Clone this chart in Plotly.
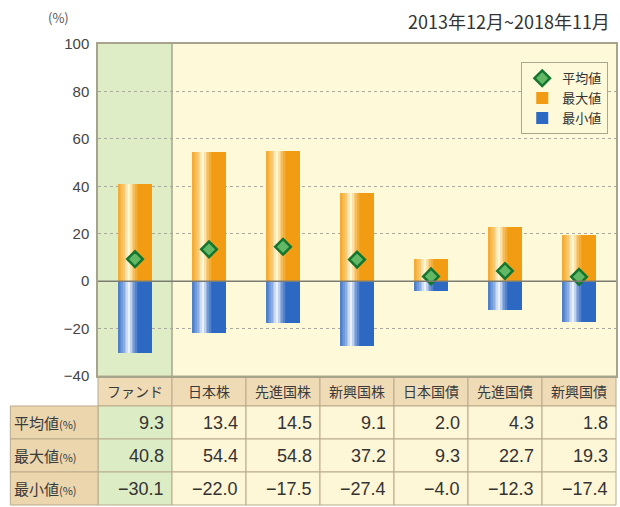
import plotly.graph_objects as go

# ---------------- data ----------------
categories = ["ファンド", "日本株", "先進国株", "新興国株", "日本国債", "先進国債", "新興国債"]
mean_vals = [9.3, 13.4, 14.5, 9.1, 2.0, 4.3, 1.8]
max_vals = [40.8, 54.4, 54.8, 37.2, 9.3, 22.7, 19.3]
min_vals = [-30.1, -22.0, -17.5, -27.4, -4.0, -12.3, -17.4]
row_labels = ["平均値", "最大値", "最小値"]
y_ticks = [-40, -20, 0, 20, 40, 60, 80, 100]
period_text = "2013年12月~2018年11月"

# ---------------- geometry ----------------
W, H = 620, 507
L, R, T, B = 98, 2, 44, 131
PW, PH = W - L - R, H - T - B


def px(x):
    return (x - L) / PW


def py(y):
    return (H - B - y) / PH


def hex2rgb(h):
    h = h.lstrip("#")
    return tuple(int(h[i:i + 2], 16) for i in (0, 2, 4))


def mix(c1, c2, f):
    a, b = hex2rgb(c1), hex2rgb(c2)
    return "rgb(%d,%d,%d)" % tuple(round(a[i] + (b[i] - a[i]) * f) for i in range(3))


def light_profile(t):
    peak = 0.32
    if t < peak:
        return 0.15 + 0.85 * (t / peak) ** 1.5
    return max(0.0, 1 - (t - peak) / 0.28) ** 1.3


fig = go.Figure()

N = 20
BW = 0.46
ORANGE, ORANGE_L = "#f29c14", "#fff8d6"
BLUE, BLUE_L = "#2d69c2", "#eef3fd"

for k in range(N):
    t = (k + 0.5) / N
    f = light_profile(t)
    off = -BW / 2 + k * BW / N
    w = BW / N + 0.006
    last = k == N - 1
    fig.add_trace(go.Bar(
        x=categories, y=max_vals, width=w, offset=off,
        marker=dict(color=mix(ORANGE, ORANGE_L, f), line=dict(width=0)),
        name="最大値", showlegend=last, legendrank=2, hoverinfo="skip"))
    fig.add_trace(go.Bar(
        x=categories, y=min_vals, width=w, offset=off,
        marker=dict(color=mix(BLUE, BLUE_L, f), line=dict(width=0)),
        name="最小値", showlegend=last, legendrank=3, hoverinfo="skip"))

fig.add_trace(go.Scatter(
    x=categories, y=mean_vals, mode="markers", name="平均値", legendrank=1,
    marker=dict(symbol="diamond", size=12, color="#62b865",
                line=dict(color="#13762f", width=2.5))))

shapes = []
# plot backgrounds
shapes.append(dict(type="rect", xref="paper", yref="paper", x0=0, x1=1, y0=0, y1=1,
                   fillcolor="#fdf9d9", line=dict(width=0), layer="below"))
shapes.append(dict(type="rect", xref="paper", yref="paper", x0=0, x1=1 / 7, y0=0, y1=1,
                   fillcolor="#dfedc7", line=dict(width=0), layer="below"))

# table
BORDER = "#b9ab8b"
header = (376, 406)
rows = [(406, 439), (439, 472), (472, 505)]
ncol = len(categories)
for i in range(ncol):
    shapes.append(dict(type="rect", xref="paper", yref="paper",
                       x0=i / ncol, x1=(i + 1) / ncol, y0=py(header[1]), y1=py(header[0]),
                       fillcolor="#efdbb6", line=dict(color=BORDER, width=1), layer="below"))
    for (a, b) in rows:
        shapes.append(dict(type="rect", xref="paper", yref="paper",
                           x0=i / ncol, x1=(i + 1) / ncol, y0=py(b), y1=py(a),
                           fillcolor="#dcecc5" if i == 0 else "#fdf6d7",
                           line=dict(color=BORDER, width=1), layer="below"))
for (a, b) in rows:
    shapes.append(dict(type="rect", xref="paper", yref="paper",
                       x0=px(10), x1=0, y0=py(b), y1=py(a),
                       fillcolor="#ecd6ae", line=dict(color=BORDER, width=1), layer="below"))

# separator between fund and others
shapes.append(dict(type="line", xref="paper", yref="paper", x0=1 / 7, x1=1 / 7,
                   y0=0, y1=1, line=dict(color="#a6a58c", width=1.5), layer="above"))
# zero line
shapes.append(dict(type="line", xref="paper", yref="y", x0=0, x1=1, y0=0, y1=0,
                   line=dict(color="#7c7c72", width=1.5), layer="above"))

annotations = []
annotations.append(dict(text=period_text, xref="paper", yref="paper", x=px(614), y=py(21),
                        xanchor="right", yanchor="middle", showarrow=False,
                        font=dict(size=18, color="#333333")))
annotations.append(dict(text="(%)", xref="paper", yref="paper", x=px(58), y=py(17),
                        xanchor="center", yanchor="middle", showarrow=False,
                        font=dict(size=13, color="#555555")))
for i, c in enumerate(categories):
    annotations.append(dict(text=c, xref="paper", yref="paper", x=(i + 0.5) / ncol,
                            y=py(sum(header) / 2), xanchor="center", yanchor="middle",
                            showarrow=False, font=dict(size=14, color="#3a3a3a")))

table_vals = [mean_vals, max_vals, min_vals]
for r, (lab, vals) in enumerate(zip(row_labels, table_vals)):
    a, b = rows[r]
    yc = py((a + b) / 2)
    annotations.append(dict(text=lab + '<span style="font-size:11px">(%)</span>',
                            xref="paper", yref="paper", x=px(12), y=yc,
                            xanchor="left", yanchor="middle", showarrow=False,
                            font=dict(size=15, color="#3a3a3a")))
    for i, v in enumerate(vals):
        s = f"{v:.1f}".replace("-", "−")
        annotations.append(dict(text=s, xref="paper", yref="paper",
                                x=(i + 1) / ncol - 6 / PW, y=yc,
                                xanchor="right", yanchor="middle", showarrow=False,
                                font=dict(size=18, color="#333333",
                                          family="Liberation Sans, Arial, sans-serif")))

fig.update_layout(
    width=W, height=H,
    margin=dict(l=L, r=R, t=T, b=B),
    paper_bgcolor="white",
    plot_bgcolor="rgba(0,0,0,0)",
    barmode="overlay",
    bargap=0,
    font=dict(family="Noto Sans CJK JP, Noto Sans, sans-serif", color="#333333"),
    showlegend=True,
    legend=dict(x=0.985, xanchor="right", y=0.945, yanchor="top",
                bgcolor="#fdf9d9", bordercolor="#a9a88f", borderwidth=1,
                font=dict(size=13, color="#333333"), tracegroupgap=0,
                itemwidth=30, traceorder="normal"),
    xaxis=dict(type="category", categoryorder="array", categoryarray=categories,
               range=[-0.5, len(categories) - 0.5], showticklabels=False,
               showgrid=False, ticks="", showline=True, mirror=True,
               linecolor="#a6a58c", linewidth=1.5, zeroline=False, fixedrange=True),
    yaxis=dict(range=[-40, 100], tickvals=y_ticks,
               ticktext=[str(v).replace("-", "−") for v in y_ticks],
               showgrid=True, gridcolor="#a9a9a0", griddash="3px,3px", gridwidth=1,
               zeroline=False, showline=True, mirror=True,
               linecolor="#a6a58c", linewidth=1.5, ticks="",
               tickfont=dict(size=15, color="#444444",
                             family="Liberation Sans, Arial, sans-serif"),
               ticklabelstandoff=4, fixedrange=True),
    shapes=shapes,
    annotations=annotations,
)

fig.write_html(
    "out.html",
    config={"displayModeBar": False},
    post_script="document.body.style.margin='0';document.body.style.overflow='hidden';",
)
